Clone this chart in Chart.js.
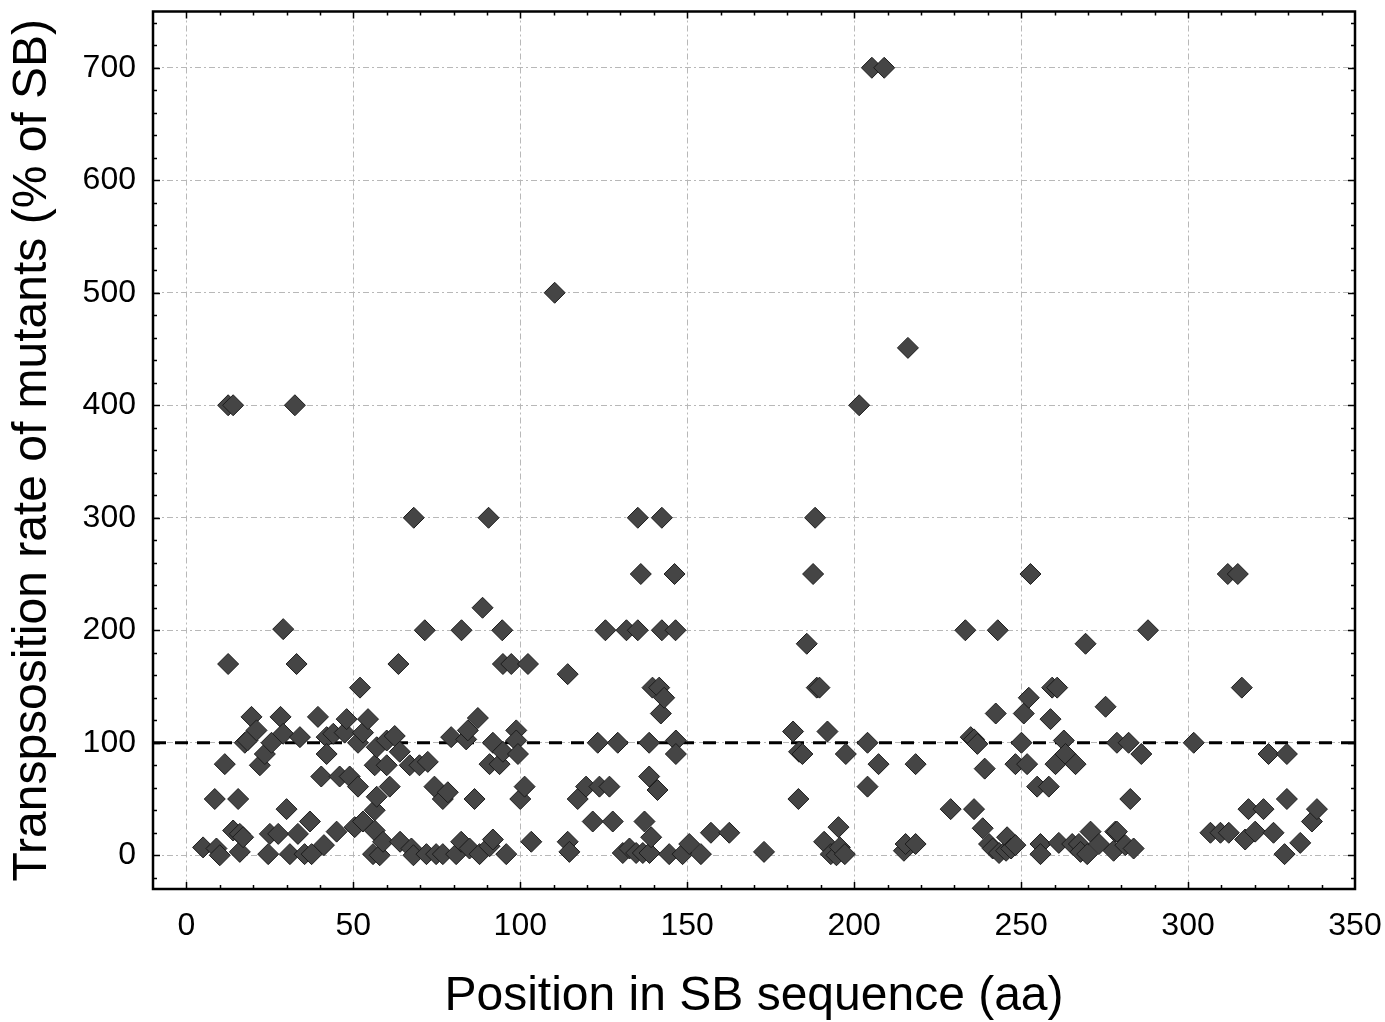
<!DOCTYPE html>
<html>
<head>
<meta charset="utf-8">
<script src="https://cdn.jsdelivr.net/npm/chart.js@4.4.0/dist/chart.umd.min.js"></script>
<style>
  body { margin: 0; background: #fff; }
  canvas { display: block; }
</style>
</head>
<body>
<canvas id="myChart" width="1385" height="1022"></canvas>
<script>
// position of the mutated residue (aa)
let posX = [
  5, 8.5, 9, 10, 11.5, 12.5, 12.5, 14, 14, 15.5, 16, 16, 17, 17.5, 18.3, 19.5, 21, 22, 23.5, 24.5,
  25, 25.5, 27.5, 28.2, 29, 29, 30, 31, 32.5, 33, 33.4, 34, 35.4, 37, 37.5, 39.4, 40.4, 41.2, 42, 42,
  44, 45, 45.9, 47.4, 48, 48.9, 50.4, 51.4, 51.4, 52, 52.9, 52.9, 54.4, 55.9, 56.4, 56.4, 56.4, 57, 57, 57.9,
  58.9, 60, 60, 60.9, 62.4, 63.5, 63.9, 64, 66.9, 67.4, 68, 68.1, 69.8, 71.4, 71.9, 72.3, 74.3, 74.8, 76.8, 76.8,
  78.3, 79.3, 80.8, 82.3, 82.4, 83.8, 84.3, 84.8, 86.3, 87.3, 87.8, 88.7, 90.5, 90.8, 90.8, 91.8, 91.8, 93.8, 94.6, 94.8,
  94.8, 95.8, 97.3, 98.8, 98.8, 99.3, 100, 101.3, 102.3, 103.3, 110.3, 114.2, 114.2, 114.7, 117.2, 119.7, 121.7, 123.2, 123.7, 125.5,
  126.7, 127.7, 129.2, 130.7, 131.8, 132.7, 134.7, 135.2, 135.2, 136.1, 136.7, 137.2, 138.6, 138.6, 138.7, 139.2, 139.6, 141.1, 141.6, 142.1,
  142.4, 142.4, 143.1, 144.6, 146.2, 146.5, 146.6, 146.6, 148.6, 150.6, 154.1, 157.1, 162.6, 173, 181.7, 183.3, 183.5, 184.5, 185.8, 187.7,
  188.3, 188.8, 189.6, 191, 192, 193, 194.7, 195.3, 195.7, 197.2, 197.5, 201.5, 204, 204, 205.3, 207.3, 209, 214.9, 215.4, 216.1,
  218.4, 218.4, 228.9, 233.3, 234.9, 235.9, 236.9, 235.9, 238.5, 239.1, 240.4, 241.5, 242.4, 243, 243.4, 245.5, 245.8, 247, 248.3, 248.3,
  250.1, 250.8, 251.8, 252.3, 252.8, 254.8, 255.8, 255.8, 258.3, 258.8, 259.3, 260.3, 260.8, 261.3, 262.8, 263.3, 265.3, 266.3, 267.3, 267.8,
  269.3, 269.8, 270.8, 273.3, 275.3, 277.7, 278.2, 278.7, 278.7, 281.2, 282.2, 282.7, 283.7, 286, 288, 301.7, 306.7, 309.7, 311.9, 312.2,
  314.9, 316.1, 317.1, 318.1, 320.1, 322.6, 324.1, 325.6, 328.9, 329.6, 329.6, 333.6, 337.1, 338.6
]
// transposition rate (% of SB)
let rateY = [
  7, 50, 6, 0, 81, 170, 400, 400, 22, 50, 19, 3, 16, 100, 102, 123, 111, 80, 90, 1,
  19, 100, 19, 123, 201, 108, 41, 1, 400, 170, 19, 105, 1, 30, 1, 123, 70, 9, 105, 90,
  108, 21, 70, 109, 121, 70, 25, 100, 61, 149, 109, 30, 121, 1, 80, 40, 22, 96, 52, 0,
  12, 102, 80, 61, 106, 170, 92, 12, 80, 6, 0, 300, 80, 200, 1, 83, 61, 1, 50, 1,
  56, 105, 1, 12, 200, 103, 111, 6, 50, 122, 1, 220, 300, 81, 8, 100, 14, 81, 200, 92,
  170, 1, 170, 111, 102, 90, 50, 61, 170, 12, 500, 161, 12, 3, 50, 61, 30, 100, 61, 200,
  61, 30, 100, 2, 200, 6, 2, 300, 200, 250, 2, 30, 100, 70, 2, 16, 149, 58, 149, 126,
  300, 200, 140, 1, 250, 200, 102, 90, 1, 10, 1, 20, 20, 3, 110, 50, 92, 90, 188, 250,
  300, 149, 149, 12, 110, 1, 0, 25, 7, 1, 90, 400, 100, 61, 700, 81, 700, 4, 10, 451,
  10, 81, 41, 200, 105, 103, 99, 41, 24, 77, 10, 6, 126, 200, 2, 4, 16, 6, 9, 81,
  100, 126, 81, 140, 250, 61, 10, 1, 61, 121, 149, 81, 149, 11, 102, 90, 10, 81, 10, 3,
  188, 1, 21, 10, 132, 4, 21, 21, 100, 9, 100, 50, 6, 90, 200, 100, 20, 20, 250, 20,
  250, 149, 14, 41, 21, 41, 90, 20, 1, 90, 50, 11, 30, 41
]
let xTicks = [0, 50, 100, 150, 200, 250, 300, 350]
let yTicks = [0, 100, 200, 300, 400, 500, 600, 700]
let refLine = 100

let fam = '"Liberation Sans", Arial, Helvetica, sans-serif'
let points = posX.map((x, i) => ({x: x, y: rateY[i]}))

// frame + inward tick marks on all four sides
let frame = {
  id: 'frame',
  afterDraw(chart) {
    let ctx = chart.ctx
    let a = chart.chartArea
    let xs = chart.scales.x
    let ys = chart.scales.y
    ctx.save()
    ctx.strokeStyle = '#000'
    ctx.lineWidth = 1.5
    ctx.beginPath()
    for (let v = 0; v < 350; v += 10) {
      let px = Math.round(xs.getPixelForValue(v)) + 0.5
      let len = v % 50 === 0 ? 7 : 4
      ctx.moveTo(px, a.bottom); ctx.lineTo(px, a.bottom - len)
      ctx.moveTo(px, a.top); ctx.lineTo(px, a.top + len)
    }
    for (let v = -20; v < 750; v += 20) {
      let py = Math.round(ys.getPixelForValue(v)) + 0.5
      let len = v % 100 === 0 ? 7 : 4
      ctx.moveTo(a.left, py); ctx.lineTo(a.left + len, py)
      ctx.moveTo(a.right, py); ctx.lineTo(a.right - len, py)
    }
    ctx.stroke()
    ctx.lineWidth = 2.5
    ctx.strokeRect(a.left, a.top, a.right - a.left, a.bottom - a.top)
    ctx.restore()
  }
}

let myChart = new Chart(document.getElementById('myChart'), {
  type: 'scatter',
  data: {
    datasets: [
      {
        data: points,
        pointStyle: 'rectRot',
        pointRadius: 10.5,
        pointHoverRadius: 10.5,
        backgroundColor: '#454545',
        borderColor: '#1c1c1c',
        borderWidth: 1,
        order: 1
      },
      {
        type: 'line',
        data: [{x: -10, y: refLine}, {x: 350, y: refLine}],
        borderColor: '#000',
        borderWidth: 3,
        borderDash: [13, 9],
        pointRadius: 0,
        order: 2
      }
    ]
  },
  options: {
    responsive: false,
    animation: false,
    layout: { padding: { top: 10, right: 30, left: 0, bottom: 0 } },
    plugins: { legend: { display: false }, tooltip: { enabled: false } },
    scales: {
      x: {
        type: 'linear',
        min: -10,
        max: 350,
        afterBuildTicks: s => { s.ticks = xTicks.map(v => ({value: v})) },
        afterFit: s => { s.height = 133; s.paddingLeft = 0; s.paddingRight = 0 },
        grid: { color: '#b8b8b8', lineWidth: 1, drawTicks: false },
        border: { display: false, dash: [6, 3, 2, 3] },
        ticks: { color: '#000', font: { family: fam, size: 32 }, padding: 18 },
        title: {
          display: true,
          text: 'Position in SB sequence (aa)',
          color: '#000',
          font: { family: fam, size: 48, lineHeight: 1 },
          padding: { top: 0, bottom: 1 }
        }
      },
      y: {
        type: 'linear',
        min: -30,
        max: 750,
        afterBuildTicks: s => { s.ticks = yTicks.map(v => ({value: v})) },
        afterFit: s => { s.width = 153; s.paddingTop = 0; s.paddingBottom = 0 },
        grid: { color: '#b8b8b8', lineWidth: 1, drawTicks: false },
        border: { display: false, dash: [6, 3, 2, 3] },
        ticks: { color: '#000', font: { family: fam, size: 32 }, padding: 17 },
        title: {
          display: true,
          text: 'Transpsosition rate of mutants (% of SB)',
          color: '#000',
          font: { family: fam, size: 48, lineHeight: 1.2 },
          padding: { top: 4, bottom: 0 }
        }
      }
    }
  },
  plugins: [frame]
})
</script>
</body>
</html>
